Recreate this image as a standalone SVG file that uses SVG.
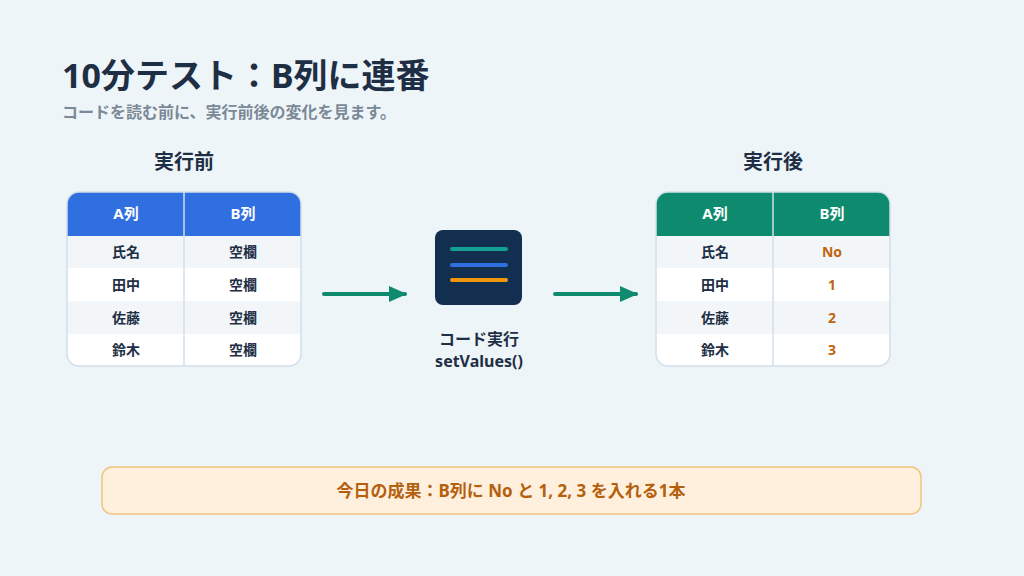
<svg xmlns="http://www.w3.org/2000/svg" width="1024" height="576" viewBox="0 0 1024 576">
<style>
text{font-family:"Noto Sans","Noto Sans CJK JP",sans-serif;font-weight:bold;text-anchor:middle}
.c{font-size:14px;fill:#1e2f45}
.h{font-size:15px;fill:#fff}
.o{font-size:14px;fill:#c0640e}
.t{font-size:20px;fill:#1e2f45}
.ln{stroke:#d1dfeb;stroke-width:1.5}
</style>
<defs>
<marker id="ah" markerWidth="18" markerHeight="18" refX="16" refY="9" orient="auto" markerUnits="userSpaceOnUse"><path d="M0,1L18,9L0,17Z" fill="#0e8a6e"/></marker>
<clipPath id="cl"><rect x="67" y="192" width="234" height="174" rx="12"/></clipPath>
<clipPath id="cr"><rect x="656" y="192" width="234" height="174" rx="12"/></clipPath>
</defs>
<rect width="1024" height="576" fill="#eef5f8"/>
<text x="62" y="88" style="font-size:34px;fill:#1e2f45;text-anchor:start">10分テスト：B列に連番</text>
<text x="62" y="118" style="font-size:16px;fill:#7b8896;text-anchor:start">コードを読む前に、実行前後の変化を見ます。</text>
<g id="before">
<text class="t" x="184" y="169">実行前</text>
<g clip-path="url(#cl)">
<rect x="67" y="192" width="234" height="174" fill="#fff"/>
<rect x="67" y="192" width="234" height="44" fill="#2f6fe0"/>
<rect x="67" y="236" width="234" height="32" fill="#f2f6f9"/>
<rect x="67" y="301" width="234" height="33" fill="#f2f6f9"/>
</g>
<rect x="67" y="192" width="234" height="174" rx="12" fill="none" stroke="#d1dfeb" stroke-width="1.5"/>
<line class="ln" x1="184" y1="192" x2="184" y2="366"/>
<text class="h" x="126" y="219">A列</text><text class="h" x="243" y="219">B列</text>
<text class="c" x="126" y="257">氏名</text><text class="c" x="243" y="257">空欄</text>
<text class="c" x="126" y="290">田中</text><text class="c" x="243" y="290">空欄</text>
<text class="c" x="126" y="323">佐藤</text><text class="c" x="243" y="323">空欄</text>
<text class="c" x="126" y="355">鈴木</text><text class="c" x="243" y="355">空欄</text>
</g>
<g id="code">
<rect x="435" y="230" width="87" height="75" rx="8" fill="#132f4f"/>
<g stroke-width="4" stroke-linecap="round">
<line x1="452" y1="249" x2="506" y2="249" stroke="#14a090"/>
<line x1="452" y1="265" x2="506" y2="265" stroke="#2f6fe0"/>
<line x1="452" y1="280" x2="506" y2="280" stroke="#f0960e"/>
</g>
<text x="479" y="345" style="font-size:16px;fill:#1e2f45">コード実行</text>
<text x="479" y="367" style="font-size:16px;fill:#1e2f45">setValues()</text>
</g>
<g id="after">
<text class="t" x="773" y="169">実行後</text>
<g clip-path="url(#cr)">
<rect x="656" y="192" width="234" height="174" fill="#fff"/>
<rect x="656" y="192" width="234" height="44" fill="#0e8a6e"/>
<rect x="656" y="236" width="234" height="32" fill="#f2f6f9"/>
<rect x="656" y="301" width="234" height="33" fill="#f2f6f9"/>
</g>
<rect x="656" y="192" width="234" height="174" rx="12" fill="none" stroke="#d1dfeb" stroke-width="1.5"/>
<line class="ln" x1="773" y1="192" x2="773" y2="366"/>
<text class="h" x="715" y="219">A列</text><text class="h" x="832" y="219">B列</text>
<text class="c" x="715" y="257">氏名</text><text class="o" x="832" y="257">No</text>
<text class="c" x="715" y="290">田中</text><text class="o" x="832" y="290">1</text>
<text class="c" x="715" y="323">佐藤</text><text class="o" x="832" y="323">2</text>
<text class="c" x="715" y="355">鈴木</text><text class="o" x="832" y="355">3</text>
</g>
<g id="connectors" stroke="#0e8a6e" stroke-width="4" stroke-linecap="round">
<line x1="324" y1="294" x2="405" y2="294" marker-end="url(#ah)"/>
<line x1="555" y1="294" x2="636" y2="294" marker-end="url(#ah)"/>
</g>
<g id="result">
<rect x="102" y="467" width="819" height="47" rx="10" fill="#fef0dc" stroke="#f1c47f" stroke-width="1.5"/>
<text x="511" y="497" style="font-size:17px;fill:#b5600e">今日の成果：B列に No と 1, 2, 3 を入れる1本</text>
</g>
</svg>
